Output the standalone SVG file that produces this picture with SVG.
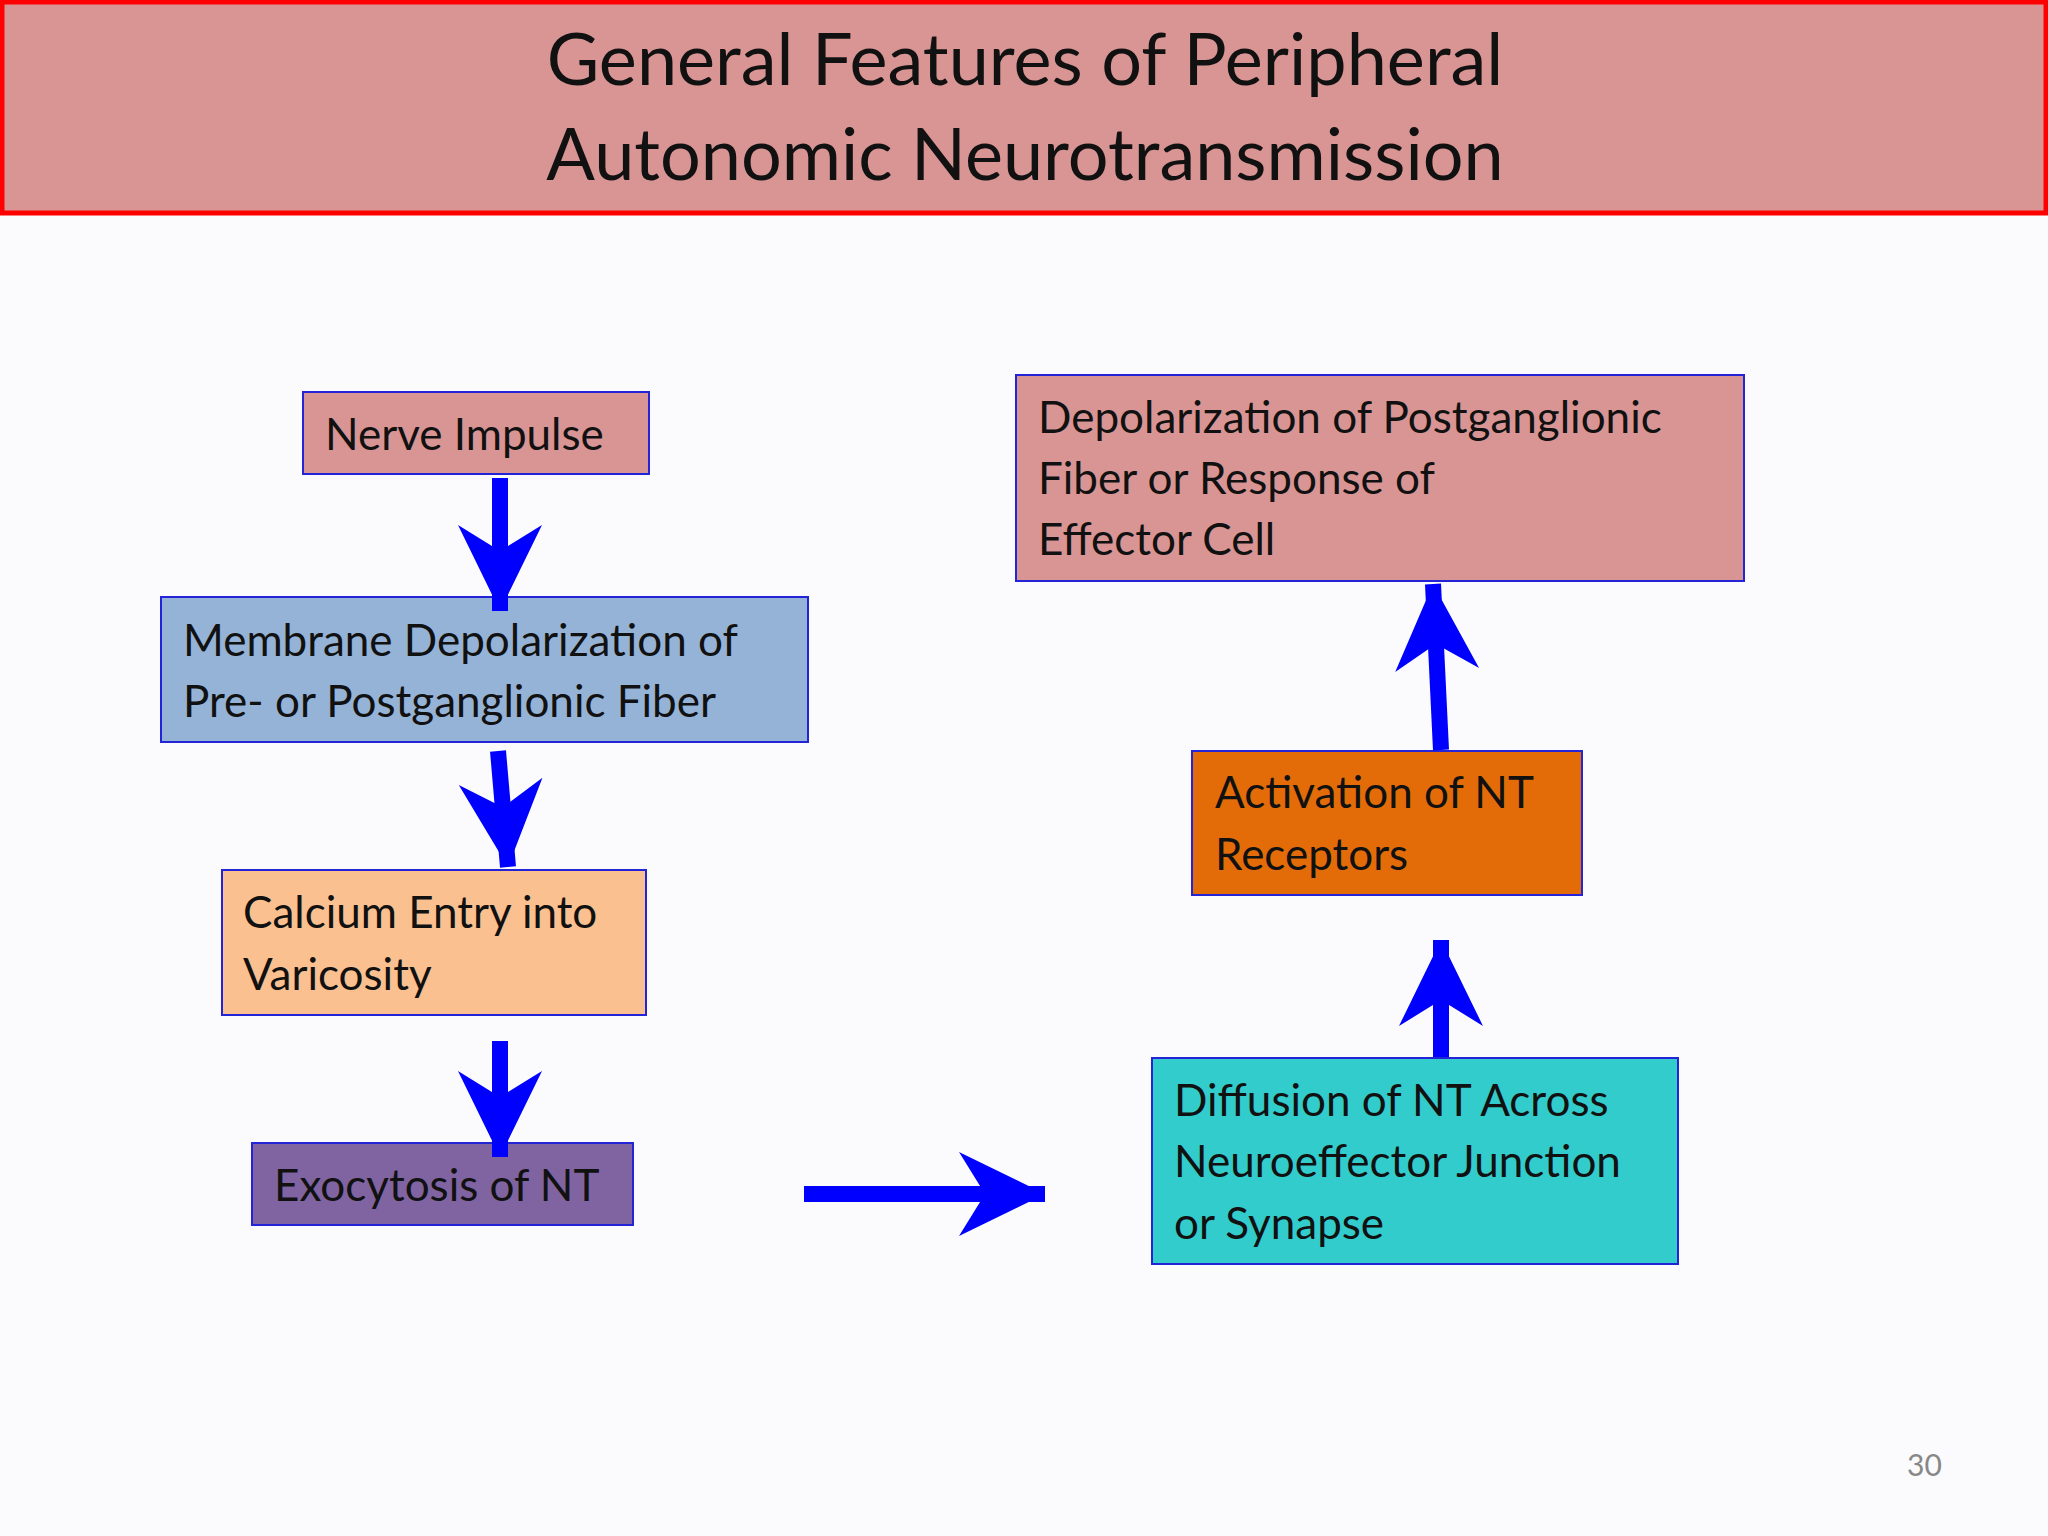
<svg xmlns="http://www.w3.org/2000/svg" width="2048" height="1536" viewBox="0 0 2048 1536">
<style>
.box{stroke:#2323d8;stroke-width:2}
.t{font-family:Lato,"Open Sans",sans-serif;font-size:44px;fill:#111}
.h{font-family:Lato,"Open Sans",sans-serif;font-size:72px;fill:#111;text-anchor:middle}
.a{stroke:#0000ff;stroke-width:16;fill:none;marker-end:url(#ah)}
</style>
<defs>
<marker id="ah" markerUnits="userSpaceOnUse" viewBox="-90 -45 92 90" refX="0" refY="0" markerWidth="92" markerHeight="90" orient="auto" overflow="visible">
<path d="M0,0 L-86,-42 L-60,0 L-86,42 Z" fill="#0000ff"/>
</marker>
</defs>
<rect width="2048" height="1536" fill="#fbfbfd"/>
<g id="title">
<rect x="2" y="2" width="2044" height="211" fill="#d99594" stroke="#ff0000" stroke-width="5"/>
<text class="h" x="1025" y="85">General Features of Peripheral</text>
<text class="h" x="1025" y="180">Autonomic Neurotransmission</text>
</g>
<g id="n1"><rect class="box" x="303" y="392" width="346" height="82" fill="#d99594"/><text class="t" x="325" y="450">Nerve Impulse</text></g>
<g id="n2"><rect class="box" x="161" y="597" width="647" height="145" fill="#95b3d7"/><text class="t" x="183" y="656">Membrane Depolarization of</text><text class="t" x="183" y="717">Pre- or Postganglionic Fiber</text></g>
<g id="n3"><rect class="box" x="222" y="870" width="424" height="145" fill="#fac090"/><text class="t" x="243" y="928">Calcium Entry into</text><text class="t" x="243" y="990">Varicosity</text></g>
<g id="n4"><rect class="box" x="252" y="1143" width="381" height="82" fill="#8064a2"/><text class="t" x="274" y="1201">Exocytosis of NT</text></g>
<g id="n5"><rect class="box" x="1152" y="1058" width="526" height="206" fill="#33cccc"/><text class="t" x="1174" y="1116">Diffusion of NT Across</text><text class="t" x="1174" y="1177">Neuroeffector Junction</text><text class="t" x="1174" y="1239">or Synapse</text></g>
<g id="n6"><rect class="box" x="1192" y="751" width="390" height="144" fill="#e36c09"/><text class="t" x="1215" y="808">Activation of NT</text><text class="t" x="1215" y="870">Receptors</text></g>
<g id="n7"><rect class="box" x="1016" y="375" width="728" height="206" fill="#d99594"/><text class="t" x="1038" y="433">Depolarization of Postganglionic</text><text class="t" x="1038" y="494">Fiber or Response of</text><text class="t" x="1038" y="555">Effector Cell</text></g>
<g id="connectors">
<path class="a" d="M500,478 L500,611"/>
<path class="a" d="M498,751 L508,867"/>
<path class="a" d="M500,1041 L500,1157"/>
<path class="a" d="M804,1194 L1045,1194"/>
<path class="a" d="M1441,1057 L1441,940"/>
<path class="a" d="M1441,750 L1433,584"/>
</g>
<text x="1907" y="1476" style="font-family:Lato,sans-serif;font-size:30px;fill:#888">30</text>
</svg>
